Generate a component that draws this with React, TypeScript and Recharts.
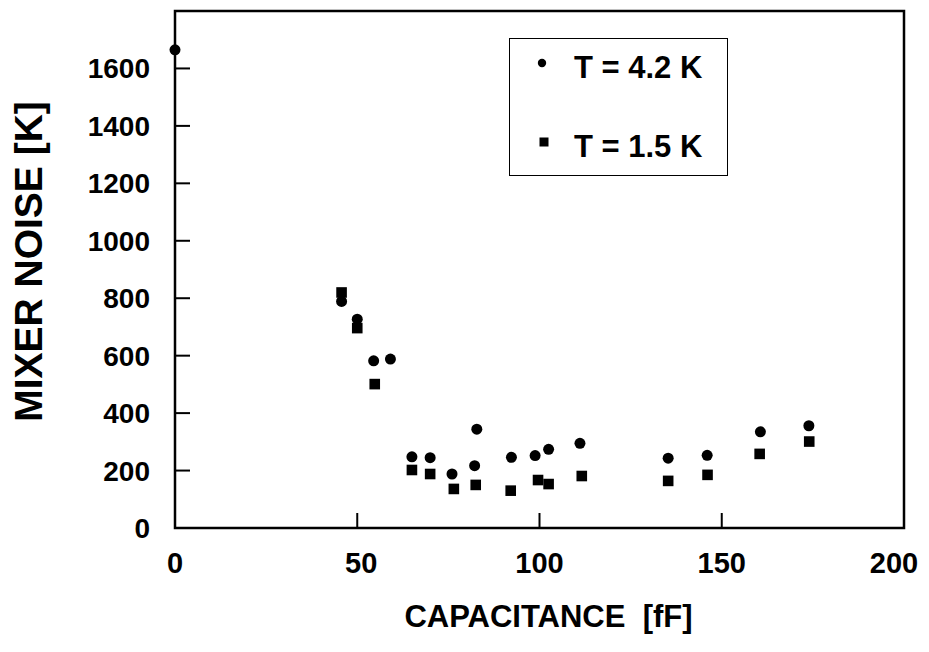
import React from 'react';
import { ScatterChart, Scatter, XAxis, YAxis, ReferenceArea, Legend } from 'recharts';

const capacitance42 = [0, 45.7, 50.0, 54.5, 59.1, 65.0, 70.0, 76.0, 82.2, 82.8, 92.3, 98.8, 102.5, 111.1, 135.3, 146.0, 160.6, 173.9];
const noise42 = [1665, 789, 727, 582, 588, 248, 245, 188, 217, 344, 246, 252, 274, 295, 243, 253, 335, 356];
const capacitance15 = [45.7, 50.0, 54.8, 65.0, 70.0, 76.5, 82.5, 92.1, 99.6, 102.5, 111.6, 135.3, 146.1, 160.4, 174.0];
const noise15 = [820, 696, 501, 202, 188, 136, 150, 130, 167, 153, 181, 164, 185, 258, 301];

const xTicks = [0, 50, 100, 150, 200];
const yTicks = [0, 200, 400, 600, 800, 1000, 1200, 1400, 1600];
const seriesNames = ['T = 4.2 K', 'T = 1.5 K'];

const data42 = capacitance42.map((c, i) => ({ c, n: noise42[i] }));
const data15 = capacitance15.map((c, i) => ({ c, n: noise15[i] }));

const FONT = '"Liberation Sans", Arial, Helvetica, sans-serif';
const X_MARGIN = 20;
const Y_MARGIN = 25;
const TICK_LEN = 15;

const XTick = (props: any) => {
  const { x, y, payload } = props;
  const v = payload.value;
  const showLine = v > 0 && v < 200;
  const shift = v === 200 ? -10 : v === 50 ? 4 : 0;
  return (
    <g>
      {showLine && (
        <line x1={x} x2={x} y1={y - X_MARGIN} y2={y - X_MARGIN - TICK_LEN} stroke="#000" strokeWidth={2} />
      )}
      <text x={x + shift} y={y + 25} textAnchor="middle" fontFamily={FONT} fontWeight="bold" fontSize={29} fill="#000">
        {v}
      </text>
    </g>
  );
};

const YTick = (props: any) => {
  const { x, y, payload } = props;
  const v = payload.value;
  const showLine = v > 0;
  return (
    <g>
      {showLine && (
        <line x1={x + Y_MARGIN} x2={x + Y_MARGIN + TICK_LEN} y1={y} y2={y} stroke="#000" strokeWidth={2} />
      )}
      <text x={x} y={y + 10} textAnchor="end" fontFamily={FONT} fontWeight="bold" fontSize={28} fill="#000">
        {v}
      </text>
    </g>
  );
};

const XTitle = (props: any) => {
  const vb = props.viewBox;
  return (
    <text
      x={vb.x + vb.width / 2 + 9}
      y={vb.y + 99}
      textAnchor="middle"
      fontFamily={FONT}
      fontWeight="bold"
      fontSize={31}
      fill="#000"
    >
      {'CAPACITANCE\u00A0 [fF]'}
    </text>
  );
};

const YTitle = (props: any) => {
  const vb = props.viewBox;
  const cx = vb.x + 34;
  const cy = vb.y + vb.height / 2 - 8;
  return (
    <text
      x={cx}
      y={cy}
      transform={`rotate(-90 ${cx} ${cy})`}
      textAnchor="middle"
      fontFamily={FONT}
      fontWeight="bold"
      fontSize={39}
      fill="#000"
    >
      MIXER NOISE [K]
    </text>
  );
};

const LegendBox = () => (
  <div
    style={{
      width: 219,
      height: 138,
      border: '1.5px solid #000',
      boxSizing: 'border-box',
      position: 'relative',
      fontFamily: FONT,
      fontWeight: 'bold',
      fontSize: 31,
      color: '#000',
      background: '#fff',
    }}
  >
    <svg width={20} height={20} style={{ position: 'absolute', left: 22, top: 13.5 }}>
      <circle cx={10} cy={10} r={4.2} fill="#000" />
    </svg>
    <div style={{ position: 'absolute', left: 64, top: 11, lineHeight: '36px', whiteSpace: 'nowrap' }}>
      {seriesNames[0]}
    </div>
    <svg width={20} height={20} style={{ position: 'absolute', left: 23.5, top: 93 }}>
      <rect x={5.5} y={5.5} width={9} height={9} fill="#000" />
    </svg>
    <div style={{ position: 'absolute', left: 64, top: 90, lineHeight: '36px', whiteSpace: 'nowrap' }}>
      {seriesNames[1]}
    </div>
  </div>
);

const CircleShape = (props: any) => <circle cx={props.cx} cy={props.cy} r={5.5} fill="#000" />;
const SquareShape = (props: any) => (
  <rect x={props.cx - 5.3} y={props.cy - 5.3} width={10.6} height={10.6} fill="#000" />
);

export default function App() {
  return (
    <div style={{ width: 921, height: 630, overflow: 'hidden' }}>
      <ScatterChart width={921} height={630} margin={{ top: 3, right: 25, bottom: 0, left: 0 }}>
        <XAxis
          type="number"
          dataKey="c"
          domain={[0, 200]}
          ticks={xTicks}
          interval={0}
          height={110}
          axisLine={false}
          tickLine={false}
          tickSize={0}
          tickMargin={X_MARGIN}
          tick={<XTick />}
          label={{ content: <XTitle /> }}
        />
        <YAxis
          type="number"
          dataKey="n"
          domain={[0, 1800]}
          ticks={yTicks}
          interval={0}
          width={167}
          axisLine={false}
          tickLine={false}
          tickSize={0}
          tickMargin={Y_MARGIN}
          tick={<YTick />}
          label={{ content: <YTitle /> }}
        />
        <ReferenceArea x1={0} x2={200} y1={0} y2={1800} fill="none" stroke="#000" strokeWidth={2.5} />
        <Legend
          layout="vertical"
          align="center"
          verticalAlign="middle"
          content={<LegendBox />}
          wrapperStyle={{ left: 501, top: 30, width: 219, height: 138 }}
        />
        <Scatter name={seriesNames[0]} data={data42} shape={<CircleShape />} isAnimationActive={false} />
        <Scatter name={seriesNames[1]} data={data15} shape={<SquareShape />} isAnimationActive={false} />
      </ScatterChart>
    </div>
  );
}
